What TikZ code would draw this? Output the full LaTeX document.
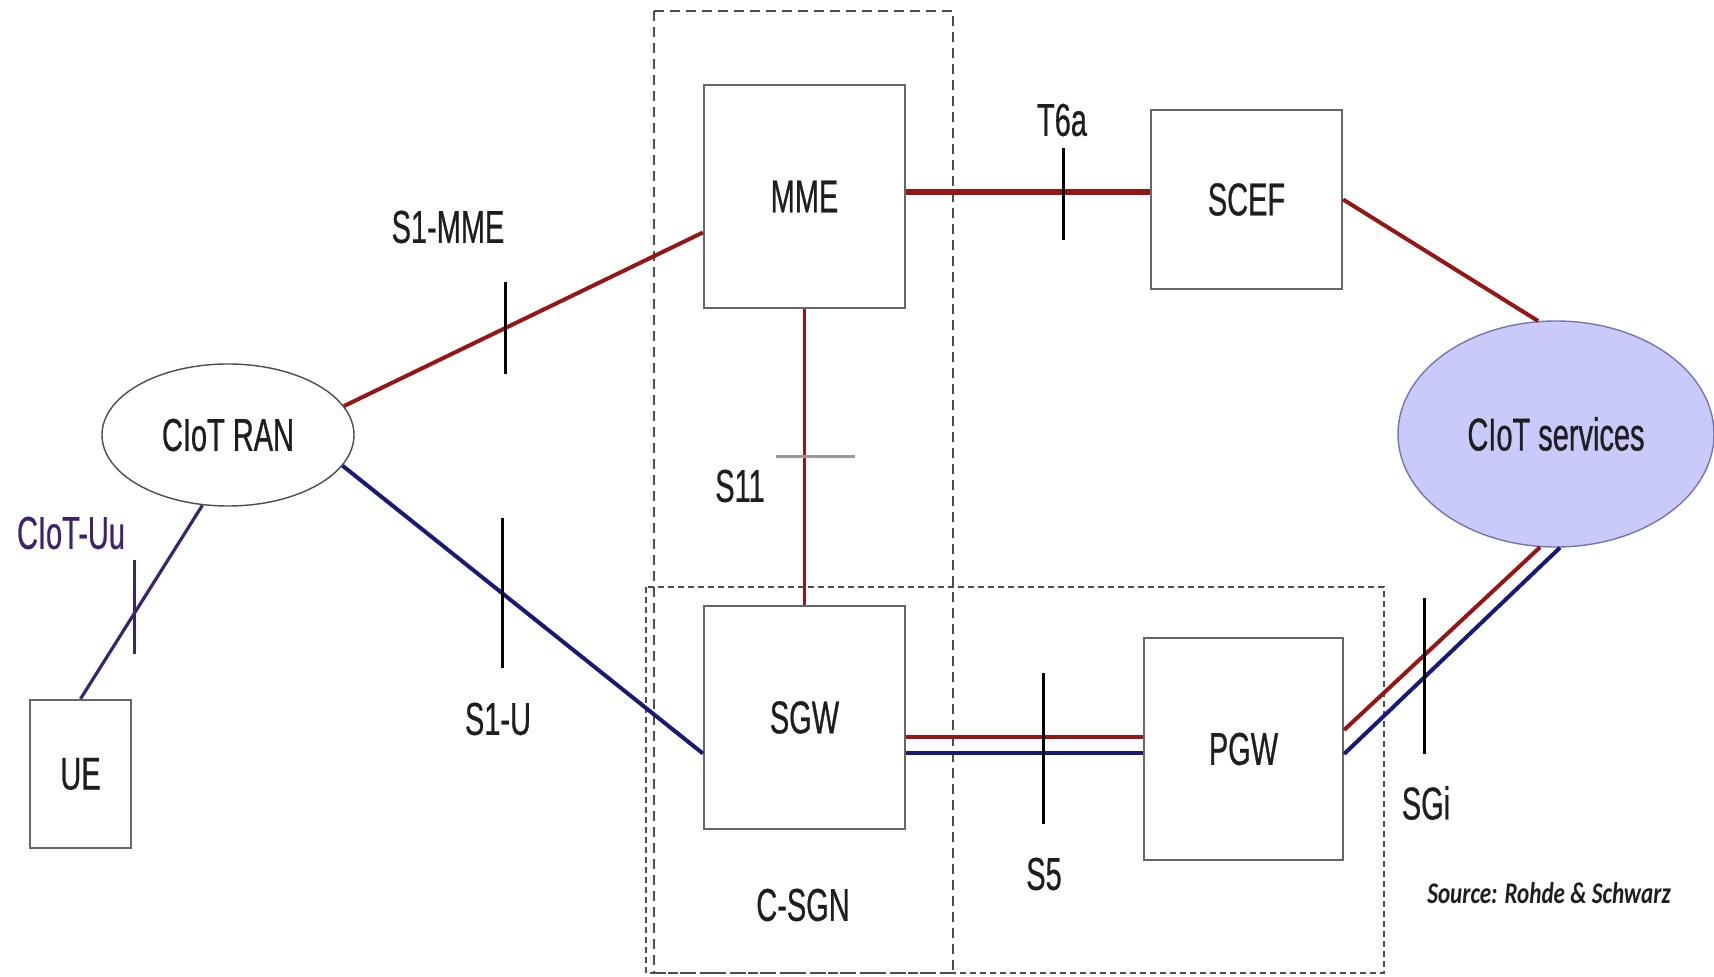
\documentclass[tikz,border=0pt]{standalone}
\usepackage{fontspec}
\setmainfont{Liberation Sans}
\newfontfamily\narrowfont[FakeStretch=0.63,FakeBold=0.6]{Liberation Sans}
\newfontfamily\srcfont[FakeStretch=0.77]{Carlito}
\usetikzlibrary{shapes.geometric,calc}
\definecolor{lred}{RGB}{150,22,22}
\definecolor{lblue}{RGB}{25,25,120}
\definecolor{lpurple}{RGB}{60,35,110}
\definecolor{lav}{RGB}{202,202,250}
\definecolor{txt}{RGB}{30,30,30}
\begin{document}
\begin{tikzpicture}[x=0.5pt,y=-0.5pt,
  every node/.style={font=\narrowfont\fontsize{23}{26}\selectfont, text=txt},
  nebox/.style={draw=black!60, line width=1.1pt, rectangle, inner sep=0pt},
  ranell/.style={draw=black!70, line width=0.7pt, ellipse, inner sep=0pt},
  svcell/.style={draw=lblue!60, line width=0.7pt, ellipse, fill=lav, inner sep=0pt},
  grpbox/.style={draw=black!70, line width=0.8pt},
  redln/.style={draw=lred, line width=2pt},
  blueln/.style={draw=lblue, line width=2pt},
  tick/.style={draw=black, line width=1.5pt},
  lbl/.style={inner sep=0pt}
]
\useasboundingbox (0,0) rectangle (1714,977);

% group boxes
\draw[grpbox, dash pattern=on 5pt off 3pt] (654,11) rectangle (953,973);
\draw[grpbox, dash pattern=on 3pt off 2pt] (646,587) rectangle (1384,973);

% nodes
\node[nebox, minimum width=100.5pt, minimum height=111.5pt] (MME) at (804.5,196.5) {MME};
\node[nebox, minimum width=95.5pt, minimum height=89.5pt] (SCEF) at (1246.5,199.5) {SCEF};
\node[nebox, minimum width=100.5pt, minimum height=111.5pt] (SGW) at (804.5,717.5) {SGW};
\node[nebox, minimum width=99.5pt, minimum height=111pt] (PGW) at (1243.5,749) {PGW};
\node[nebox, minimum width=50.5pt, minimum height=74pt] (UE) at (80.5,774) {UE};
\node[ranell, minimum width=126pt, minimum height=71pt] (RAN) at (228,435) {CIoT RAN};
\node[svcell, minimum width=158pt, minimum height=113pt] (CS) at (1556,434) {CIoT services};

% connectors
\draw[redln] (RAN.14) -- ([yshift=-18pt]MME.west) coordinate[pos=0.45] (k1);
\draw[tick] ([yshift=23pt]k1) -- ([yshift=-23pt]k1);

\draw[blueln] (RAN.-15) -- ([yshift=-18pt]SGW.west) coordinate[pos=0.443] (k2);
\draw[tick] ([yshift=37.5pt]k2) -- ([yshift=-37.5pt]k2);

\draw[draw=lpurple, line width=1.6pt] (RAN.250) -- (UE.north) coordinate[pos=0.56] (k3);
\draw[draw=lpurple, line width=1.5pt] ([yshift=27pt]k3) -- ([yshift=-20pt]k3);

\draw[draw=lred, line width=1.2pt] (MME.south) -- (SGW.north) coordinate[pos=0.5] (k4);
\draw[draw=black!40, line width=1.5pt] ([xshift=-14.5pt]k4) -- ([xshift=25pt]k4);

\draw[draw=lred, line width=3pt] ([yshift=2pt]MME.east) -- ([yshift=2pt]MME.east -| SCEF.west) coordinate[pos=0.646] (k5);
\draw[tick] ([yshift=22pt]k5) -- ([yshift=-24pt]k5);

\draw[redln] (SCEF.east) -- (CS.99);

\draw[redln] ([yshift=-10pt]SGW.east) -- ([yshift=-10pt]SGW.east -| PGW.west) coordinate[pos=0.58] (k6);
\draw[blueln] ([yshift=-18pt]SGW.east) -- ([yshift=-18pt]SGW.east -| PGW.west);
\draw[tick, line width=1.2pt] ([yshift=32pt]k6) -- ([yshift=-43.5pt]k6);

\draw[redln] ([yshift=9.5pt]PGW.east) -- (CS.262) coordinate[pos=0.41] (k7);
\draw[blueln] ([yshift=-2.5pt]PGW.east) -- (CS.272);
\draw[tick] ([yshift=28.5pt]k7) -- ([yshift=-49.5pt]k7);

% labels
\node[lbl] (lS1MME) at (448,227) {S1-MME};
\node[lbl] (lS1U) at (498,719) {S1-U};
\node[lbl, text=lpurple] (lUu) at (71,533) {CIoT-Uu};
\node[lbl] (lS11) at (740,486) {S11};
\node[lbl] (lT6a) at (1062,120) {T6a};
\node[lbl] (lS5) at (1044,874) {S5};
\node[lbl] (lSGi) at (1426,803) {SGi};
\node[lbl] (lCSGN) at (803,905) {C-SGN};
\node[lbl, font=\srcfont\bfseries\itshape\fontsize{15}{18}\selectfont] (lsrc) at (1549,893) {Source: Rohde \& Schwarz};
\end{tikzpicture}
\end{document}
